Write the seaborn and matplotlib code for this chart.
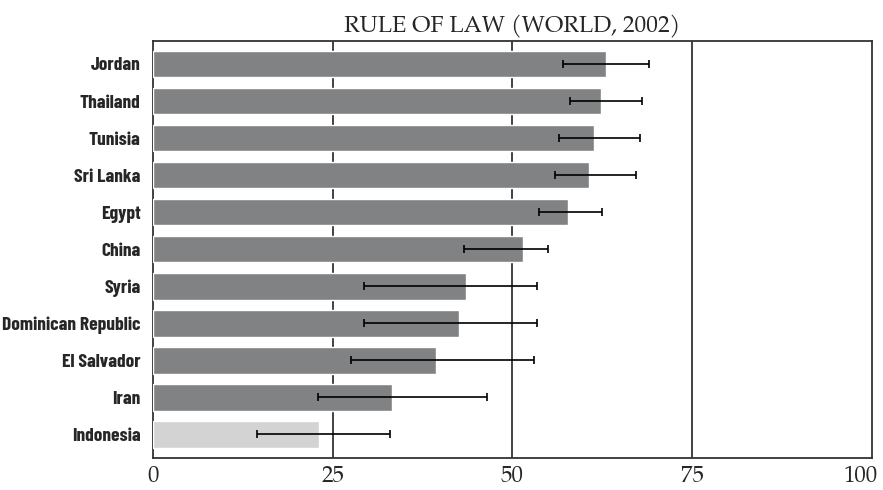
import matplotlib
matplotlib.use('Agg')
import matplotlib.pyplot as plt
import matplotlib.transforms as mtransforms
import pandas as pd
import numpy as np
import seaborn as sns

sns.set_style("white")

countries = ["Jordan", "Thailand", "Tunisia", "Sri Lanka", "Egypt", "China",
             "Syria", "Dominican Republic", "El Salvador", "Iran", "Indonesia"]
scores = [63.0, 62.3, 61.3, 60.6, 57.7, 51.4, 43.5, 42.6, 39.4, 33.3, 23.1]
err_low = [57.0, 58.0, 56.5, 55.9, 53.7, 43.2, 29.3, 29.3, 27.6, 22.9, 14.5]
err_high = [69.0, 68.0, 67.8, 67.2, 62.5, 54.9, 53.4, 53.4, 53.0, 46.4, 33.0]
highlight = "Indonesia"

serif = ["TeX Gyre Pagella", "Liberation Serif", "DejaVu Serif"]
label_font = ["Barlow Condensed", "Liberation Sans", "DejaVu Sans"]

df = pd.DataFrame({"country": countries, "score": scores,
                   "lo": err_low, "hi": err_high})
colors = {c: ("#d3d3d3" if c == highlight else "#818284") for c in countries}

fig = plt.figure(figsize=(8.83, 4.9), dpi=100)
ax = fig.add_axes([0.1733, 0.0653, 0.8142, 0.8510])

sns.barplot(data=df, y="country", x="score", hue="country", palette=colors,
            order=countries, width=0.72, legend=False, ax=ax, zorder=3)

# error bars
ypos = np.arange(len(countries))
xerr = [df["score"] - df["lo"], df["hi"] - df["score"]]
ax.errorbar(df["score"], ypos, xerr=xerr, fmt="none", ecolor="black",
            elinewidth=1.2, capsize=3, capthick=1.2, zorder=4)

ax.set_xlim(0, 100)
ax.set_ylim(len(countries) - 0.36, -0.62)
ax.set_xticks([0, 25, 50, 75, 100])
for v in [25, 50, 75]:
    ax.axvline(v, color="#333333", lw=1.3, zorder=2)

for s in ax.spines.values():
    s.set_visible(True)
    s.set_color("#333333")
    s.set_linewidth(1.3)

ax.tick_params(axis="x", direction="out", length=5, width=1.3, color="#333333",
               pad=0)
ax.tick_params(axis="y", length=0, pad=9)
xlabels = ax.get_xticklabels()
for lab in xlabels:
    lab.set_fontfamily(serif)
    lab.set_fontsize(16.5)
# last label pulled inside the figure
xlabels[-1].set_transform(xlabels[-1].get_transform() +
                          mtransforms.ScaledTranslation(-11 / 100, 0, fig.dpi_scale_trans))
for lab in ax.get_yticklabels():
    lab.set_fontfamily(label_font)
    lab.set_fontweight(700)
    lab.set_fontsize(14)

ax.set_xlabel("")
ax.set_ylabel("")
ax.set_title("RULE OF LAW (WORLD, 2002)", fontfamily=serif,
             fontsize=16.8, pad=6)

fig.savefig("out.png", dpi=100)
plt.close(fig)
